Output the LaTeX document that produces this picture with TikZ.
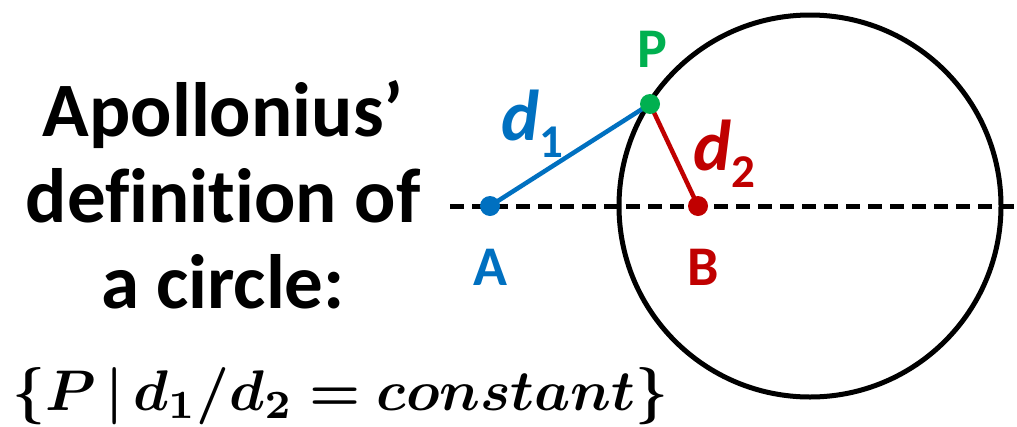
\documentclass[tikz,border=0pt]{standalone}
\usepackage{fontspec}
\usepackage{amsmath}
\usepackage{bm}
\usepackage{graphicx}
\setmainfont{Carlito}[Ligatures=NoCommon]

\definecolor{dblue}{RGB}{0,112,192}
\definecolor{dred}{RGB}{192,0,0}
\definecolor{dgreen}{RGB}{0,176,80}

\newcommand*{\rad}{191pt}
\newcommand*{\axisy}{206}
\newcommand*{\apolset}{\resizebox{656pt}{!}{$\bm{\{P\,|\,d_1/d_2 = constant\}}$}}

\begin{document}
\begin{tikzpicture}
[
	x=1pt, y=-1pt,
	dot/.style={circle,fill,inner sep=0pt,minimum size=20pt},
	ptlabel/.style={font=\fontsize{56}{56}\selectfont\bfseries,inner sep=0pt,anchor=base},
	dlabel/.style={font=\fontsize{72}{72}\selectfont\bfseries,inner sep=0pt,anchor=base west},
	dashline/.style={line width=5pt,dash pattern=on 14pt off 8pt}
]

	\useasboundingbox (0,0) rectangle (1017,426);

	% title
	\node[font=\fontsize{77}{86}\selectfont\bfseries,align=center,inner sep=0pt,anchor=base] (title) at (223,308) {Apollonius’\\definition of\\a circle:};

	\node[inner sep=0pt,anchor=base west] (formula) at (12,410) {\apolset};

	% points
	\coordinate (c) at (810,\axisy);
	\coordinate (a) at (490,\axisy);
	\coordinate (b) at (698,\axisy);
	\coordinate (p) at (650,104);
	\coordinate (axl) at (450,\axisy);
	\coordinate (axr) at (1017,\axisy);

	% axis and circle
	\draw[dashline] (axl) -- (axr);
	\draw[line width=5pt] (c) circle[radius=\rad];

	% distances
	\draw[dblue, line width=4.5pt] (a) -- (p);
	\draw[dred, line width=4.5pt] (p) -- (b);

	\node[dot,dblue] (A) at (a) {};
	\node[dot,dred] (B) at (b) {};
	\node[dot,dgreen] (P) at (p) {};

	\node[ptlabel,dgreen] (lp) at (652,67) {P};
	\node[ptlabel,dblue] (la) at (490,285) {A};
	\node[ptlabel,dred] (lb) at (703,285) {B};

	\node[dlabel,dblue] (d1) at (501,140) {\textit{d}\raisebox{-17pt}{\fontsize{47}{47}\selectfont 1}};
	\node[dlabel,dred] (d2) at (693,170) {\textit{d}\raisebox{-17pt}{\fontsize{47}{47}\selectfont 2}};

\end{tikzpicture}
\end{document}
